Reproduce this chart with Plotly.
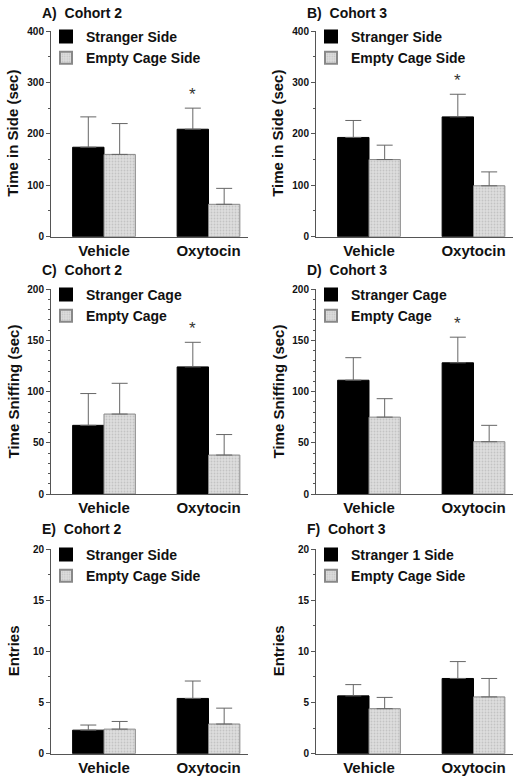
import plotly.graph_objects as go

groups = ["Vehicle", "Oxytocin"]

# Panel A/B: Time in side (sec)
a_stranger = [174, 209]
a_stranger_err = [59, 41]
a_empty = [160, 63]
a_empty_err = [60, 31]

b_stranger = [193, 233]
b_stranger_err = [33, 44]
b_empty = [150, 99]
b_empty_err = [28, 27]

# Panel C/D: Time sniffing (sec)
c_stranger = [67, 124]
c_stranger_err = [31, 24]
c_empty = [78, 38]
c_empty_err = [30, 20]

d_stranger = [111, 128]
d_stranger_err = [22, 25]
d_empty = [75, 51]
d_empty_err = [18, 16]

# Panel E/F: Entries
e_stranger = [2.3, 5.4]
e_stranger_err = [0.5, 1.7]
e_empty = [2.4, 2.9]
e_empty_err = [0.75, 1.55]

f_stranger = [5.65, 7.35]
f_stranger_err = [1.1, 1.65]
f_empty = [4.4, 5.55]
f_empty_err = [1.1, 1.8]

panels = [
    dict(tag="A)\u00a0\u00a0Cohort 2", ytitle="Time in Side (sec)", s=a_stranger, se=a_stranger_err,
         e=a_empty, ee=a_empty_err, names=["Stranger Side", "Empty Cage Side"], ymax=400, dtick=100, minor=50, star=True),
    dict(tag="B)\u00a0\u00a0Cohort 3", ytitle="Time in Side (sec)", s=b_stranger, se=b_stranger_err,
         e=b_empty, ee=b_empty_err, names=["Stranger Side", "Empty Cage Side"], ymax=400, dtick=100, minor=50, star=True),
    dict(tag="C)\u00a0\u00a0Cohort 2", ytitle="Time Sniffing (sec)", s=c_stranger, se=c_stranger_err,
         e=c_empty, ee=c_empty_err, names=["Stranger Cage", "Empty Cage"], ymax=200, dtick=50, minor=10, star=True),
    dict(tag="D)\u00a0\u00a0Cohort 3", ytitle="Time Sniffing (sec)", s=d_stranger, se=d_stranger_err,
         e=d_empty, ee=d_empty_err, names=["Stranger Cage", "Empty Cage"], ymax=200, dtick=50, minor=10, star=True),
    dict(tag="E)\u00a0\u00a0Cohort 2", ytitle="Entries", s=e_stranger, se=e_stranger_err,
         e=e_empty, ee=e_empty_err, names=["Stranger Side", "Empty Cage Side"], ymax=20, dtick=5, minor=2.5, star=False),
    dict(tag="F)\u00a0\u00a0Cohort 3", ytitle="Entries", s=f_stranger, se=f_stranger_err,
         e=f_empty, ee=f_empty_err, names=["Stranger 1 Side", "Empty Cage Side"], ymax=20, dtick=5, minor=2.5, star=False),
]

W, H = 532, 781
FONT = "Liberation Sans, Arial, Helvetica, sans-serif"
AX = "#555555"
TXT = "#111111"

# pixel geometry of the panels
col_x = [(51, 248), (316, 513)]
row_y = [(31, 236.7), (289, 494), (549, 753.7)]
title_y = [13, 270, 529]

fig = go.Figure()
layout = dict(
    width=W, height=H, margin=dict(l=0, r=0, t=0, b=0, autoexpand=False),
    paper_bgcolor="white", plot_bgcolor="white",
    barmode="group", bargap=0.4, bargroupgap=0,
    font=dict(family=FONT, color=TXT),
    annotations=[],
)

for i, p in enumerate(panels):
    r, c = divmod(i, 2)
    n = i + 1
    xa = "x" if n == 1 else f"x{n}"
    ya = "y" if n == 1 else f"y{n}"
    lg = "legend" if n == 1 else f"legend{n}"
    x0, x1 = col_x[c]
    yt, yb = row_y[r]

    fig.add_trace(go.Bar(
        x=groups, y=p["s"], name=p["names"][0], xaxis=xa, yaxis=ya, legend=lg,
        marker=dict(color="black", line=dict(color="black", width=1)),
        error_y=dict(type="data", array=p["se"], arrayminus=[0] * len(p["se"]), symmetric=False,
                     color="#666666", thickness=1, width=8),
    ))
    fig.add_trace(go.Bar(
        x=groups, y=p["e"], name=p["names"][1], xaxis=xa, yaxis=ya, legend=lg,
        marker=dict(color="#dcdcdc", line=dict(color="#888888", width=1),
                    pattern=dict(shape=".", fgcolor="#a8a8a8", bgcolor="#dedede", size=3, solidity=0.3)),
        error_y=dict(type="data", array=p["ee"], arrayminus=[0] * len(p["ee"]), symmetric=False,
                     color="#666666", thickness=1, width=8),
    ))

    xkey = "xaxis" if n == 1 else f"xaxis{n}"
    ykey = "yaxis" if n == 1 else f"yaxis{n}"
    layout[xkey] = dict(
        domain=[x0 / W, x1 / W], anchor=ya, type="category",
        range=[-0.507, 1.378], showline=True, linecolor=AX, linewidth=1,
        ticks="", showgrid=False, zeroline=False,
        tickfont=dict(size=15, family=FONT, color=TXT, weight="bold"),
    )
    layout[ykey] = dict(
        domain=[1 - yb / H, 1 - yt / H], anchor=xa,
        range=[0, p["ymax"]], dtick=p["dtick"], showline=True, linecolor=AX, linewidth=1,
        ticks="outside", ticklen=4, tickcolor=AX, showgrid=False, zeroline=False,
        minor=dict(dtick=p["minor"], ticks="outside", ticklen=2, tickcolor=AX),
        tickfont=dict(size=10, family=FONT, color=TXT, weight="bold"),
    )
    layout[lg] = dict(
        x=(x0 - 5) / W, y=1 - (yt - 10) / H, xanchor="left", yanchor="top",
        bgcolor="rgba(0,0,0,0)", traceorder="normal", tracegroupgap=0,
        font=dict(size=14, family=FONT, color=TXT, weight="bold"),
        itemsizing="constant",
    )
    # panel title
    layout["annotations"].append(dict(
        text=p["tag"], xref="paper", yref="paper", x=(x0 - 11) / W, y=1 - title_y[r] / H,
        xanchor="left", yanchor="middle", showarrow=False,
        font=dict(size=14, family=FONT, color=TXT, weight="bold"),
    ))
    # y-axis title
    layout["annotations"].append(dict(
        text=p["ytitle"], xref="paper", yref=f"{ya} domain", x=(x0 - 38) / W, y=0.5,
        xanchor="center", yanchor="middle", textangle=-90, showarrow=False,
        font=dict(size=15, family=FONT, color=TXT, weight="bold"),
    ))
    # significance asterisk above Oxytocin stranger bar
    if p["star"]:
        layout["annotations"].append(dict(
            text="*", xref=xa, yref=ya, x=1 - 0.15, y=p["s"][1] + p["se"][1],
            xanchor="center", yanchor="bottom", yshift=2, showarrow=False,
            font=dict(size=17, family=FONT, color="#333333"),
        ))

fig.update_layout(**layout)
fig.write_html("out.html", config={"displayModeBar": False},
               post_script="document.body.style.margin='0';document.body.style.padding='0';")
